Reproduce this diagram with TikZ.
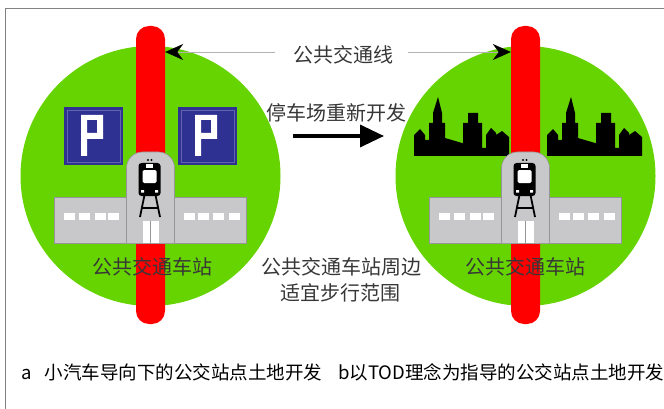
\documentclass[tikz,border=0pt]{standalone}
\usepackage{fontspec}
\setmainfont{Noto Sans CJK SC}
\usetikzlibrary{arrows.meta}

\definecolor{grass}{RGB}{102,212,0}
\definecolor{railred}{RGB}{255,0,0}
\definecolor{parkblue}{RGB}{46,49,146}
\definecolor{wallgray}{RGB}{200,200,202}
\definecolor{edgegray}{RGB}{150,150,150}
\definecolor{textgray}{RGB}{55,55,55}
\definecolor{framegray}{RGB}{130,130,130}

\begin{document}
\begin{tikzpicture}[x=1pt, y=-1pt,
    txt/.style={text=textgray, font=\fontsize{20}{23}\selectfont, inner sep=0pt},
    capt/.style={font=\fontsize{18.5}{22}\selectfont, inner sep=0pt, anchor=west},
    redbar/.style={fill=railred, rounded corners=13pt, minimum width=29pt,
        minimum height=298pt, inner sep=0pt},
    wall/.style={fill=wallgray, draw=edgegray, line width=0.6pt},
    pointer/.style={draw=gray!60, line width=0.6pt,
        -{Stealth[length=18pt, width=16pt, inset=6pt, color=black]}},
    bigarrow/.style={line width=3.5pt, -{Triangle[length=24pt, width=22pt]}}]
\useasboundingbox (0,0) rectangle (664,409);

% frame
\draw[framegray, line width=1.2pt] (5.5,409) -- (5.5,8.5) -- (664,8.5);

% walking range round each station, with the rail line through it
\foreach \cx/\nm in {150.5/L, 525.5/R} {
    \fill[grass] (\cx,176) circle (130pt);
    \node[redbar] (bar\nm) at (\cx,175) {};
}

% parking lots (car oriented)
\foreach \px in {64,178} {
    \fill[parkblue] (\px,107) rectangle ++(59,58);
    \draw[parkblue!75!white, line width=0.4pt] (\px+3,110) rectangle ++(53,52);
    \fill[white, even odd rule] (\px+17,115) -- ++(0,41) -- ++(6,0) -- ++(0,-17)
        -- ++(16,0) -- ++(0,-24) -- cycle
        (\px+23,120) rectangle ++(10,13);
}

% skyline (TOD)
\foreach \sx in {414,547} {
    \fill[shift={(\sx,156)}] (0,0) -- (0,-21) -- (6,-27) -- (11,-21) -- (11,-16)
        -- (15,-16) -- (15,-33) -- (19,-33) -- (19,-43) -- (24,-59) -- (28,-43)
        -- (28,-33) -- (31,-33) -- (31,-18) -- (48,-13) -- (49,-13) -- (49,-33)
        -- (54,-33) -- (54,-43) -- (64,-43) -- (64,-33) -- (68,-33) -- (68,-8)
        -- (72,-8) -- (72,-21) -- (77,-28) -- (82,-23) -- (82,-21) -- (88,-25)
        -- (95,-19) -- (95,0) -- cycle;
}

% station buildings
\foreach \cx in {150.5,525.5} {
    \begin{scope}[shift={(\cx,0)}]
    \filldraw[wall] (-96,197) rectangle (96,243);
    \foreach \w in {-87,-72,-56,-43,33,47,62,78}
        \fill[white] (\w,213) rectangle ++(11,7);
    \filldraw[wall, rounded corners=16pt] (-24,243) -- (-24,152) -- (24,152) -- (24,243);
    % door
    \fill[white] (-8,221) rectangle (8,243);
    \draw[edgegray, line width=0.6pt] (0,221) -- (0,243);
    % train
    \fill (-2.5,160) circle (1.2pt) (1,160) circle (1.2pt);
    \fill[rounded corners=3pt] (-12,163) rectangle (10,196);
    \fill[white] (-4.5,164) rectangle (2.5,168);
    \fill[white, rounded corners=1.5pt] (-8,170) rectangle (6,183);
    \fill[white] (-9.5,190) rectangle ++(3,2.5) (4.5,190) rectangle ++(3,2.5);
    \draw[line width=1.8pt] (-6,195) -- (-10.5,217) (5,195) -- (9.5,217)
        (-9,208) -- (8,208);
    \end{scope}
}

% texts
\node[txt] (line) at (343,55) {公共交通线};
\node[txt] (redev) at (336,113) {停车场重新开发};
\node[txt] (walk1) at (341,267) {公共交通车站周边};
\node[txt] (walk2) at (340,293) {适宜步行范围};
\node[txt] (stL) at (152,267) {公共交通车站};
\node[txt] (stR) at (525,267) {公共交通车站};

\node[capt] (capA) at (21,372) {a\hspace{0.7em}小汽车导向下的公交站点土地开发};
\node[capt] (capB) at (338,372) {b以TOD理念为指导的公交站点土地开发};

% arrows
\coordinate (pl) at ([xshift=-18pt,yshift=3pt]line.west);
\coordinate (pr) at ([xshift=15pt,yshift=3pt]line.east);
\draw[pointer] (pl) -- (pl -| barL.east);
\draw[pointer] (pr) -- (pr -| barR.west);

\coordinate (from) at (293,136);
\coordinate (to) at (384,136);
\draw[bigarrow] (from) -- (to);
\end{tikzpicture}
\end{document}
